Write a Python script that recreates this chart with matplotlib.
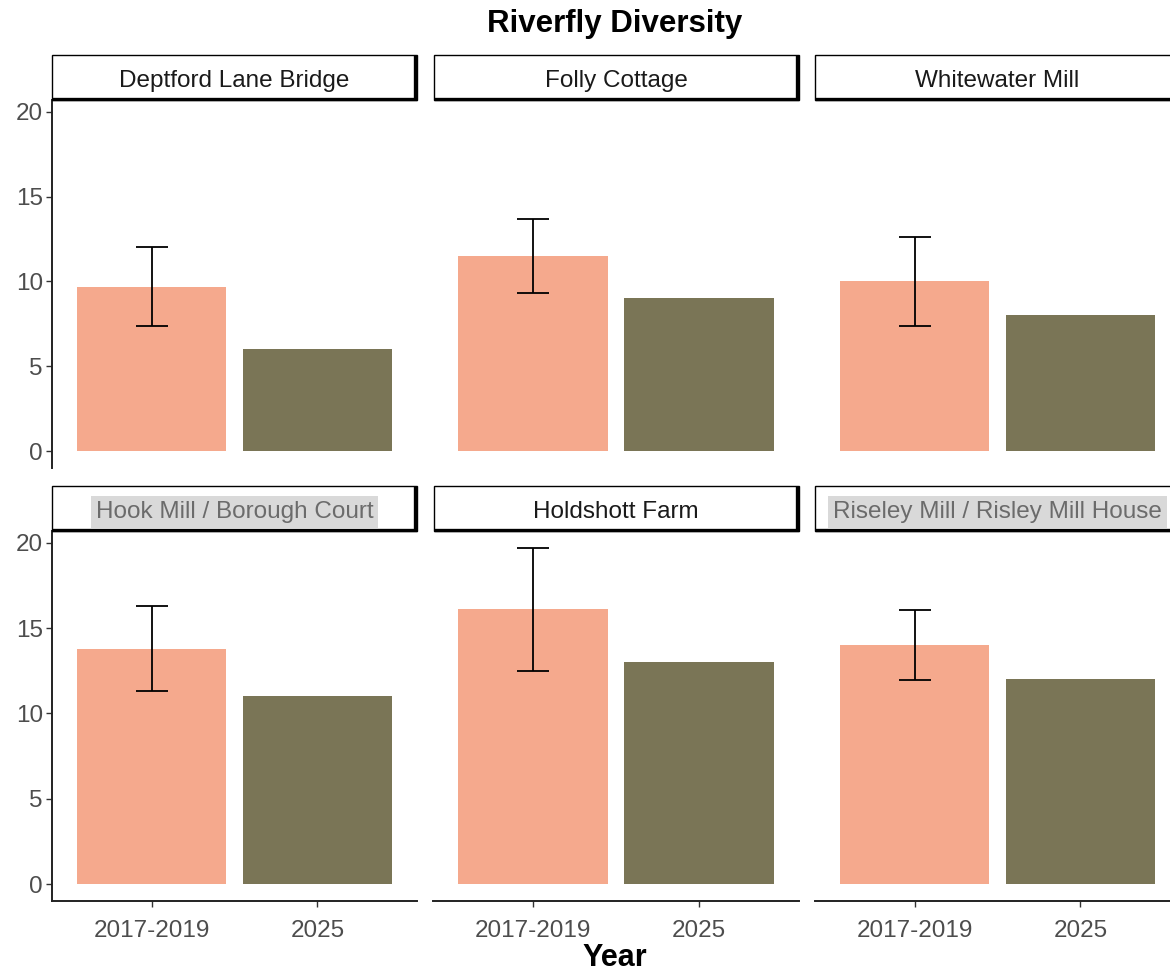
"""
Faceted bar chart of riverfly diversity per site: 2017-2019 baseline
(mean with error bar) against the 2025 survey.
"""
import matplotlib.pyplot as plt
from matplotlib.patches import Rectangle
import numpy as np

# ---- data ----
sites = ['Deptford Lane Bridge', 'Folly Cottage', 'Whitewater Mill',
         'Hook Mill / Borough Court', 'Holdshott Farm',
         'Riseley Mill / Risley Mill House']
periods = ['2017-2019', '2025']
baseline_mean = [9.7, 11.5, 10.0, 13.8, 16.1, 14.0]
baseline_err = [2.3, 2.2, 2.6, 2.5, 3.6, 2.05]
recent_score = [6, 9, 8, 11, 13, 12]
y_ticks = [0, 5, 10, 15, 20]
# strips whose label is drawn on a grey patch
grey_strips = ['Hook Mill / Borough Court', 'Riseley Mill / Risley Mill House']

BAR_COLOURS = ['#F5A98D', '#7A7556']
W, H = 1170, 977

plt.rcParams['font.family'] = ['Liberation Sans', 'DejaVu Sans']
fig = plt.figure(figsize=(W / 100, H / 100), dpi=100)


def px_axes(x0, y0, x1, y1):
    """Add axes given pixel edges measured from the top-left corner."""
    return fig.add_axes([x0 / W, 1 - y1 / H, (x1 - x0) / W, (y1 - y0) / H])


# shared y scale, ggplot style 5% padding
top = max(m + e for m, e in zip(baseline_mean, baseline_err))
ylim = (-0.05 * top, 1.05 * top)

col_left = [52, 433.5, 815]
panel_w = 365
strip_top = [55, 486]
panel_top = [100, 531]
panel_bottom = [468, 901]

for i, site in enumerate(sites):
    r, c = divmod(i, 3)
    x0 = col_left[c]
    ax = px_axes(x0, panel_top[r], x0 + panel_w, panel_bottom[r])

    # bars and baseline error bar
    xs = np.arange(len(periods))
    ax.bar(xs, [baseline_mean[i], recent_score[i]], width=0.9, color=BAR_COLOURS)
    ax.errorbar(0, baseline_mean[i], yerr=baseline_err[i], fmt='none',
                ecolor='black', elinewidth=1.3, capsize=11.5, capthick=1.3)
    ax.set_xlim(-0.6, 1.6)
    ax.set_ylim(*ylim)

    # classic theme: only outer axis lines
    for s in ['top', 'right']:
        ax.spines[s].set_visible(False)
    ax.spines['left'].set_visible(c == 0)
    ax.spines['bottom'].set_visible(r == 1)
    for s in ['left', 'bottom']:
        ax.spines[s].set_linewidth(1.4)
        ax.spines[s].set_color('#222222')

    ax.set_yticks(y_ticks)
    ax.set_xticks(xs)
    ax.tick_params(axis='y', left=(c == 0), labelleft=(c == 0), length=4.5,
                   width=1.0, color='#333333', labelcolor='#4D4D4D',
                   labelsize=17.5, pad=2)
    ax.tick_params(axis='x', bottom=(r == 1), labelbottom=(r == 1), length=4.5,
                   width=1.0, color='#333333', labelcolor='#4D4D4D',
                   labelsize=17.5, pad=9)
    ax.set_xticklabels(periods)

    # facet strip: thin box with a heavier right and bottom edge
    sx = px_axes(x0, strip_top[r], x0 + panel_w, panel_top[r])
    sx.set_xlim(0, 1)
    sx.set_ylim(0, 1)
    sx.axis('off')
    sx.add_patch(Rectangle((0, 0), 1, 1, facecolor='white', edgecolor='black',
                           linewidth=1.0, clip_on=False))
    sx.plot([0, 1], [0.02, 0.02], color='black', lw=2.4, clip_on=False,
            solid_capstyle='butt')
    sx.plot([0.995, 0.995], [0, 1], color='black', lw=2.4, clip_on=False,
            solid_capstyle='butt')
    if site in grey_strips:
        sx.text(0.5, 0.42, site, ha='center', va='center', fontsize=17.5,
                color='#6B6B6B',
                bbox=dict(boxstyle='square,pad=0.2', facecolor='#D9D9D9',
                          edgecolor='none'))
    else:
        sx.text(0.5, 0.42, site, ha='center', va='center', fontsize=17.5,
                color='#1A1A1A')

# title and shared x label
fig.text(615 / W, 1 - 24 / H, 'Riverfly Diversity', ha='center', va='center',
         fontsize=22.5, fontweight='bold', color='black')
fig.text(615 / W, 4 / H, 'Year', ha='center', va='bottom',
         fontsize=22, fontweight='bold', color='black')

fig.savefig('out.png', dpi=100)
